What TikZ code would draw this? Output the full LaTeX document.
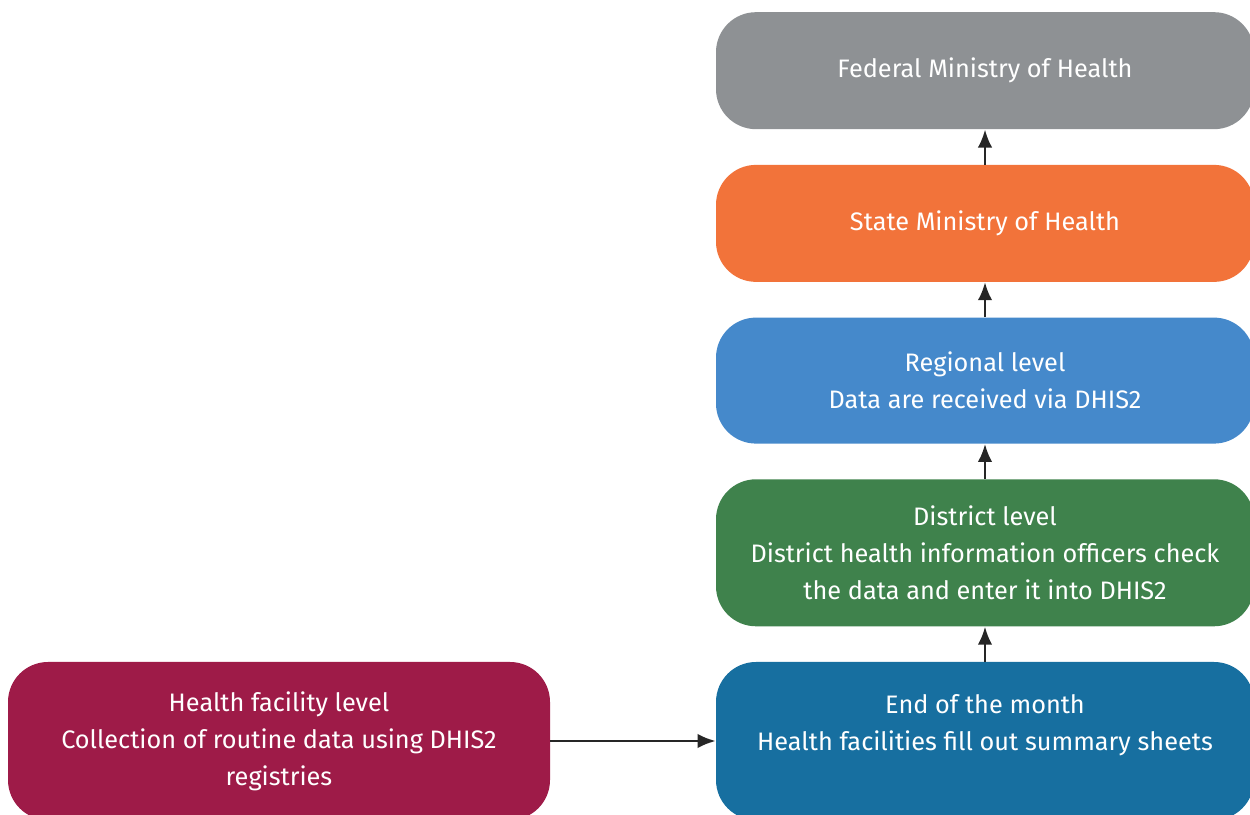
\documentclass[tikz,border=0pt]{standalone}
\usepackage{fontspec}
\setmainfont{Fira Sans}
\definecolor{fedgray}{RGB}{142, 145, 148}
\definecolor{stateorange}{RGB}{242, 115, 58}
\definecolor{regblue}{RGB}{69, 137, 203}
\definecolor{distgreen}{RGB}{63, 130, 76}
\definecolor{monthblue}{RGB}{23, 111, 160}
\definecolor{facmaroon}{RGB}{158, 27, 72}
\usetikzlibrary{arrows.meta, positioning}
\tikzset{
	level/.style={rectangle, rounded corners=0.8cm, draw=none, text=white, align=center, inner sep=0pt, minimum width=10.76cm, font=\fontsize{14.4}{21}\selectfont},
	federal/.style={level, fill=fedgray, minimum height=2.34cm},
	state/.style={level, fill=stateorange, minimum height=2.34cm},
	regional/.style={level, fill=regblue, minimum height=2.52cm},
	district/.style={level, fill=distgreen, minimum height=2.94cm},
	monthly/.style={level, fill=monthblue, minimum height=3.16cm},
	facility/.style={level, fill=facmaroon, minimum height=3.16cm, minimum width=10.84cm},
	arrow/.style={-{Latex[length=3.6mm, width=2.9mm]}, line width=1.4pt, draw=black!85},
}

\begin{document}
\begin{tikzpicture}[node distance=0.7cm]
		\useasboundingbox (0,0) rectangle (25,16.28);
		\node[monthly] (month) at (19.7,1.46) {End of the month\\Health facilities fill out summary sheets\\\mbox{}};
		\node[facility] (facility) at (5.58,1.46) {Health facility level\\Collection of routine data using DHIS2\\registries};
		\node[district, above=of month] (district) {District level\\District health information officers check\\the data and enter it into DHIS2};
		\node[regional, above=of district] (regional) {Regional level\\Data are received via DHIS2};
		\node[state, above=of regional] (statemoh) {State Ministry of Health};
		\node[federal, above=of statemoh] (fedmoh) {Federal Ministry of Health};
		\draw[arrow] (facility) -- (month);
		\draw[arrow] (month) -- (district);
		\draw[arrow] (district) -- (regional);
		\draw[arrow] (regional) -- (statemoh);
		\draw[arrow] (statemoh) -- (fedmoh);
	\end{tikzpicture}
\end{document}
